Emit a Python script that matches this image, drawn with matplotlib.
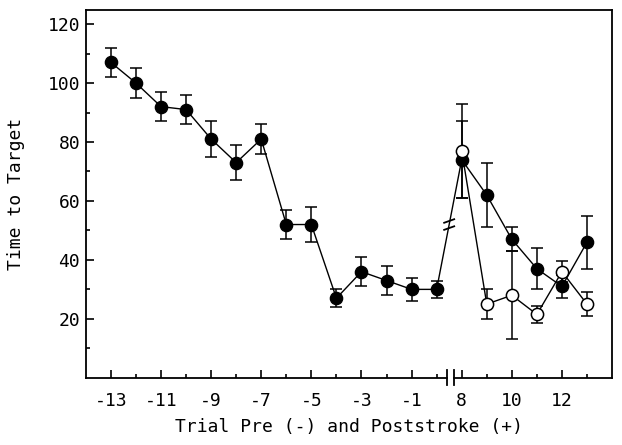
import numpy as np
import matplotlib.pyplot as plt
from matplotlib.ticker import FixedLocator, FixedFormatter

# Prestroke trials (filled circles)
pre_trials = [-13, -12, -11, -10, -9, -8, -7, -6, -5, -4, -3, -2, -1, 0]
pre_time = [107, 100, 92, 91, 81, 73, 81, 52, 52, 27, 36, 33, 30, 30]
pre_err = [5, 5, 5, 5, 6, 6, 5, 5, 6, 3, 5, 5, 4, 3]

# Poststroke trials
post_trials = [8, 9, 10, 11, 12, 13]
post_filled = [74, 62, 47, 37, 31, 46]
post_filled_err = [13, 11, 4, 7, 4, 9]
post_open = [77, 25, 28, 21.5, 36, 25]
post_open_err = [16, 5, 15, 3, 3.5, 4]

x_labels_pre = ['-13', '-11', '-9', '-7', '-5', '-3', '-1']
x_labels_post = ['8', '10', '12']

gap = 7  # post trial 8 sits one slot after trial 0
pre_x = np.array(pre_trials)
post_x = np.array(post_trials) - gap

plt.rcParams['font.family'] = 'DejaVu Sans Mono'
fig = plt.figure(figsize=(6.22, 4.45), dpi=100)
ax = fig.add_axes([0.138, 0.151, 0.846, 0.826])

fx = np.concatenate([pre_x, post_x])
fy = np.concatenate([pre_time, post_filled])
fe = np.concatenate([pre_err, post_filled_err])

ax.plot(fx, fy, color='black', lw=1.0, zorder=2)
ax.errorbar(fx, fy, yerr=fe, fmt='o', color='black', ms=8.8, capsize=4,
            elinewidth=1.1, capthick=1.1, zorder=3)
ax.plot(post_x, post_open, color='black', lw=1.0, zorder=2)
ax.errorbar(post_x, post_open, yerr=post_open_err, fmt='o', mfc='white',
            mec='black', color='black', ms=8.8, capsize=4, elinewidth=1.1,
            capthick=1.1, mew=1.1, zorder=4)

# break marks on the line between trial 0 and trial 8
mx = (pre_x[-1] + post_x[0]) / 2
my = (pre_time[-1] + post_filled[0]) / 2
for dy in (1.2, -1.2):
    ax.plot([mx - 0.2, mx + 0.2], [my + dy - 0.6, my + dy + 0.6],
            color='black', lw=1.3, zorder=5)

ax.set_xlim(-14, 7)
ax.set_ylim(0, 124.7)

major_x = [-13, -11, -9, -7, -5, -3, -1] + list(np.array([8, 10, 12]) - gap)
ax.xaxis.set_major_locator(FixedLocator(major_x))
ax.xaxis.set_major_formatter(FixedFormatter(x_labels_pre + x_labels_post))
minor_x = [-12, -10, -8, -6, -4, -2, 0] + list(np.array([9, 11, 13]) - gap)
ax.xaxis.set_minor_locator(FixedLocator(minor_x))
ax.set_yticks([20, 40, 60, 80, 100, 120])
ax.set_yticks([10, 30, 50, 70, 90, 110], minor=True)
ax.tick_params(direction='in', which='major', length=6, width=1.2,
               labelsize=13)
ax.tick_params(axis='x', pad=10)
ax.tick_params(axis='y', pad=4)
ax.tick_params(direction='in', which='minor', length=3, width=1.2)

for s in ax.spines.values():
    s.set_linewidth(1.3)

# broken x axis
ax.spines['bottom'].set_visible(False)
trans = ax.get_xaxis_transform()
ax.plot([-14, 0.4], [0, 0], color='black', lw=1.3, transform=trans, clip_on=False)
ax.plot([0.68, 7], [0, 0], color='black', lw=1.3, transform=trans, clip_on=False)
for bx in (0.4, 0.68):
    ax.plot([bx, bx], [-0.02, 0.02], color='black', lw=1.3, transform=trans,
            clip_on=False)

ax.set_xlabel('Trial Pre (-) and Poststroke (+)', fontsize=13, labelpad=6)
ax.set_ylabel('Time to Target', fontsize=13, labelpad=16)

plt.savefig('out.png', dpi=100)
